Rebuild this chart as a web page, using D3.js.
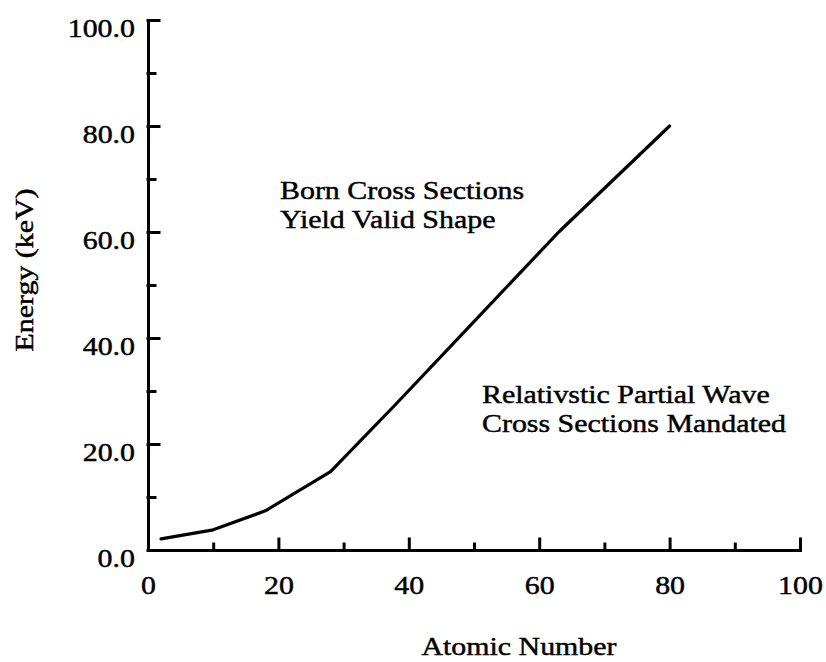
<!DOCTYPE html>
<html>
<head>
<meta charset="utf-8">
<script src="https://cdn.jsdelivr.net/npm/d3@7"></script>
<style>
  html, body { margin: 0; padding: 0; background: #fff; }
  svg { display: block; }
  text { font-family: "Liberation Serif", "Times New Roman", serif; fill: #000; }
</style>
</head>
<body>
<svg id="chart" width="826" height="662"></svg>
<script>
// Boundary between the Born and relativistic partial-wave regimes
const atomicNumber = [2, 10, 18, 28, 38, 48, 63, 80];
const energyKeV    = [2.1, 3.8, 7.4, 14.8, 27.5, 40.5, 60, 80];

const xMajorTicks = [0, 20, 40, 60, 80, 100];
const xMinorTicks = [10, 30, 50, 70, 90];
const yMajorTicks = [0, 20, 40, 60, 80, 100];
const yMinorTicks = [10, 30, 50, 70, 90];

const regionLabels = [
  ["Born Cross Sections", "Yield Valid Shape"],
  ["Relativstic Partial Wave", "Cross Sections Mandated"]
];

const svg = d3.select("#chart");

const x = d3.scaleLinear().domain([0, 100]).range([148, 800]);
const y = d3.scaleLinear().domain([0, 100]).range([550, 20]);

const axisStroke = 3;
const fontSize = 26;
const widen = 1.15; // wide book-face proportions

// Minor ticks (no labels)
svg.append("g")
  .attr("transform", `translate(0,${y(0)})`)
  .call(d3.axisBottom(x).tickValues(xMinorTicks).tickSize(-6).tickSizeOuter(0).tickFormat(""))
  .call(g => g.select(".domain").remove());
svg.append("g")
  .attr("transform", `translate(${x(0)},0)`)
  .call(d3.axisLeft(y).tickValues(yMinorTicks).tickSize(-7).tickSizeOuter(0).tickFormat(""))
  .call(g => g.select(".domain").remove());

// Major x axis
const gx = svg.append("g")
  .attr("transform", `translate(0,${y(0)})`)
  .call(d3.axisBottom(x).tickValues(xMajorTicks).tickSize(-11).tickSizeOuter(0)
    .tickFormat(d3.format("d")));
gx.selectAll(".tick text").attr("y", 44).attr("dy", 0);

// Major y axis
const gy = svg.append("g")
  .attr("transform", `translate(${x(0)},0)`)
  .call(d3.axisLeft(y).tickValues(yMajorTicks).tickSize(-11).tickSizeOuter(0)
    .tickPadding(13).tickFormat(d3.format(".1f")));
gy.selectAll(".tick text").attr("dy", 16);

svg.selectAll(".domain, .tick line")
  .attr("stroke", "#000")
  .attr("stroke-width", axisStroke)
  .attr("stroke-linecap", "square");
svg.selectAll(".tick text")
  .attr("font-family", "Liberation Serif, Times New Roman, serif")
  .attr("font-size", fontSize)
  .attr("fill", "#000");

// Boundary curve
const line = d3.line()
  .x((d, i) => x(atomicNumber[i]))
  .y((d, i) => y(energyKeV[i]));
svg.append("path")
  .datum(energyKeV)
  .attr("d", line)
  .attr("fill", "none")
  .attr("stroke", "#000")
  .attr("stroke-width", 3.2)
  .attr("stroke-linejoin", "round")
  .attr("stroke-linecap", "round");

// Region annotations, one text element per line
const annotationAnchors = [[280, 199], [482, 403]];
regionLabels.forEach((lines, k) => {
  lines.forEach((s, i) => {
    svg.append("text")
      .attr("class", "label")
      .attr("x", annotationAnchors[k][0])
      .attr("y", annotationAnchors[k][1] + i * 28.5)
      .attr("font-size", fontSize)
      .text(s);
  });
});

// Axis titles
svg.append("text")
  .attr("class", "label")
  .attr("x", 519)
  .attr("y", 655)
  .attr("text-anchor", "middle")
  .attr("font-size", fontSize)
  .text("Atomic Number");

svg.append("text")
  .attr("class", "label")
  .attr("transform", "translate(33,270) rotate(-90)")
  .attr("text-anchor", "middle")
  .attr("font-size", fontSize)
  .text("Energy (keV)");

// Widen every text run and give it a slightly heavier print weight
svg.selectAll("text").each(function () {
  const w = this.getComputedTextLength();
  d3.select(this)
    .attr("textLength", (w * widen).toFixed(1))
    .attr("lengthAdjust", "spacingAndGlyphs")
    .attr("stroke", "#000")
    .attr("stroke-width", 0.45);
});
</script>
</body>
</html>
